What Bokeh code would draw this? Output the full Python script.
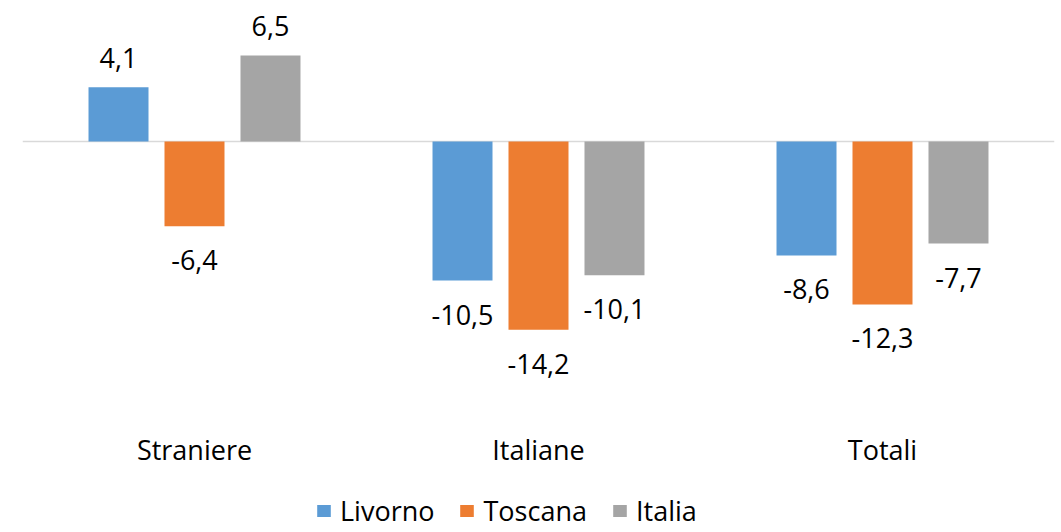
from bokeh.plotting import figure
from bokeh.models import (ColumnDataSource, FactorRange, Range1d, Span, Legend, LegendItem,
                          CategoricalAxis)
from bokeh.transform import dodge
from bokeh.core.properties import value
from bokeh.embed import file_html
from bokeh.resources import INLINE

categories = ["Straniere", "Italiane", "Totali"]
series = ["Livorno", "Toscana", "Italia"]
livorno = [4.1, -10.5, -8.6]
toscana = [-6.4, -14.2, -12.3]
italia = [6.5, -10.1, -7.7]
colors = ["#5B9BD5", "#ED7D31", "#A5A5A5"]

FONT = "Open Sans"
FS = "27px"

p = figure(width=1061, height=532, output_backend="svg", toolbar_location=None,
           x_range=FactorRange(factors=categories, range_padding=0),
           y_range=Range1d(-29.51, 10.642),
           x_axis_location=None, y_axis_location=None,
           min_border_left=22, min_border_right=7, min_border_top=0, min_border_bottom=0)
p.outline_line_color = None
p.grid.visible = False
p.background_fill_color = "white"
p.border_fill_color = "white"

p.add_layout(Span(location=0, dimension="width", line_color="#D9D9D9", line_width=1.5, level="underlay"))

offsets = [-0.2209, 0.0, 0.2209]
renderers = []
for name, vals, col, off in zip(series, [livorno, toscana, italia], colors, offsets):
    src = ColumnDataSource(dict(
        cat=categories,
        val=vals,
        lab=[f"{v:.1f}".replace(".", ",") for v in vals],
        yoff=[-29 if v >= 0 else 34 for v in vals],
    ))
    r = p.vbar(x=dodge("cat", off, range=p.x_range), top="val", bottom=0, width=0.1744,
               source=src, fill_color=col, line_color=None)
    renderers.append(r)
    p.text(x=dodge("cat", off, range=p.x_range), y="val", text="lab", source=src,
           y_offset="yoff", text_align="center", text_baseline="middle",
           text_font=value(FONT), text_font_size=FS, text_color="#000000")

xaxis = CategoricalAxis(fixed_location=-21.06)
xaxis.axis_line_color = None
xaxis.major_tick_line_color = None
xaxis.minor_tick_line_color = None
xaxis.major_label_standoff = 4
xaxis.major_label_text_font = FONT
xaxis.major_label_text_font_size = FS
xaxis.major_label_text_color = "#000000"
p.add_layout(xaxis, "below")

legend = Legend(items=[LegendItem(label=s, renderers=[r]) for s, r in zip(series, renderers)],
                orientation="horizontal", location=(293, 3),
                glyph_width=17, glyph_height=15, label_standoff=8, spacing=24,
                padding=0, margin=0, border_line_color=None, background_fill_alpha=0,
                label_text_font=FONT, label_text_font_size=FS, label_text_color="#000000")
p.add_layout(legend, "center")

open("out.html", "w").write(file_html(p, INLINE))
